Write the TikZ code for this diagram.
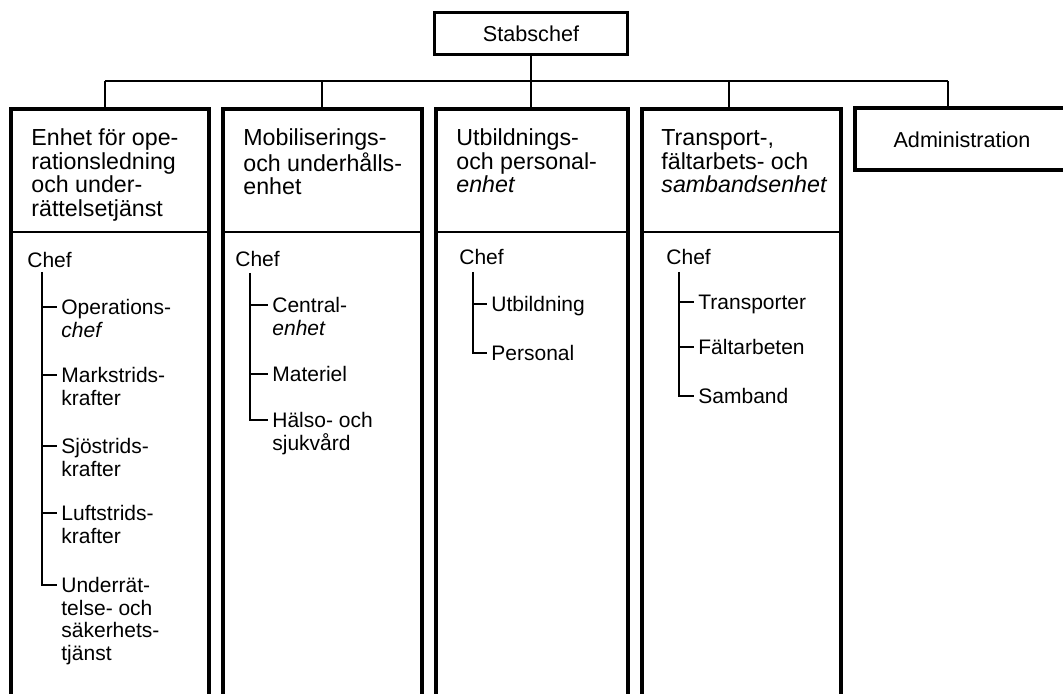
\documentclass[tikz,border=0pt]{standalone}
\usepackage{fontspec}
\setmainfont{Liberation Sans}
\newcommand\mystrut{\rule{0pt}{8pt}}
\newcommand\hstrut{\rule{0pt}{10pt}}
\begin{document}
\begin{tikzpicture}[x=0.5pt,y=-0.5pt,
  txt/.style={anchor=north west, inner xsep=2pt, inner ysep=0pt, align=left,
    font=\fontsize{10.5pt}{11.2pt}\selectfont},
  hdr/.style={txt, font=\fontsize{11.6pt}{11.7pt}\selectfont},
  stabbox/.style={draw, line width=1.5pt, minimum width=96.5pt, minimum height=21pt,
    inner sep=0pt, font=\fontsize{10.8pt}{11.2pt}\selectfont},
  colborder/.style={line width=1.8pt},
  conn/.style={line width=0.9pt},
  divline/.style={line width=0.8pt},
  tree/.style={line width=0.9pt}]
\useasboundingbox (0,0) rectangle (1063,694);

% top node
\node[stabbox] (stab) at (531,34) {Stabschef};

% column tops and bus
\coordinate (c1top) at (105,109);
\coordinate (c2top) at (322,109);
\coordinate (c3top) at (531,109);
\coordinate (c4top) at (729,109);
\coordinate (c5top) at (948,108);
\coordinate (busL) at (105,81);
\coordinate (busR) at (948,81);

% column frames (open at bottom)
\draw[colborder] (11,700) -- (11,109) -- (209,109) -- (209,700);
\draw[colborder] (223,700) -- (223,109) -- (422,109) -- (422,700);
\draw[colborder] (436,700) -- (436,109) -- (628,109) -- (628,700);
\draw[colborder] (642,700) -- (642,109) -- (841,109) -- (841,700);
\draw[colborder] (1070,108) -- (855,108) -- (855,170) -- (1070,170);
\draw[divline] (11,232) -- (209,232);
\draw[divline] (223,232) -- (422,232);
\draw[divline] (436,232) -- (628,232);
\draw[divline] (642,232) -- (841,232);

% connectors
\draw[conn] (busL) -- (busR);
\draw[conn] (stab.south) -- (c3top);
\draw[conn] (c1top) -- (c1top |- busL);
\draw[conn] (c2top) -- (c2top |- busL);
\draw[conn] (c4top) -- (c4top |- busL);
\draw[conn] (c5top) -- (c5top |- busR);

% headers
\node[hdr] (h1) at (27,125.5) {\hstrut Enhet för ope-\\rationsledning\\och under-\\rättelsetjänst};
\node[hdr] (h2) at (239,125.5) {\hstrut Mobiliserings-\\och underhålls-\\enhet};
\node[hdr] (h3) at (452,125.5) {\hstrut Utbildnings-\\och personal-\\\textit{enhet}};
\node[hdr] (h4) at (657,125.5) {\hstrut Transport-,\\fältarbets- och\\\textit{sambandsenhet}};
\node[font=\fontsize{10.8pt}{11.2pt}\selectfont, inner sep=0pt] (h5) at (962,140) {Administration};

% column 1
\node[txt] (chef1) at (23,251.5) {\mystrut Chef};
\node[txt] (o1) at (57,298.5) {\mystrut Operations-\\\textit{chef}};
\node[txt] (o2) at (57,366.5) {\mystrut Markstrids-\\krafter};
\node[txt] (o3) at (57,437.5) {\mystrut Sjöstrids-\\krafter};
\node[txt] (o4) at (57,504.5) {\mystrut Luftstrids-\\krafter};
\node[txt] (o5) at (57,576.5) {\mystrut Underrät-\\telse- och\\säkerhets-\\tjänst};
\coordinate (v1) at (42,272);
\coordinate (k11) at (42,307);
\coordinate (k12) at (42,375);
\coordinate (k13) at (42,446);
\coordinate (k14) at (42,513);
\coordinate (k15) at (42,585);
\draw[tree] (v1) -- (k15) -- (k15 -| o5.west);
\draw[tree] (k11) -- (k11 -| o1.west);
\draw[tree] (k12) -- (k12 -| o2.west);
\draw[tree] (k13) -- (k13 -| o3.west);
\draw[tree] (k14) -- (k14 -| o4.west);

% column 2
\node[txt] (chef2) at (231,250.5) {\mystrut Chef};
\node[txt] (m1) at (268,296.5) {\mystrut Central-\\\textit{enhet}};
\node[txt] (m2) at (268,365.5) {\mystrut Materiel};
\node[txt] (m3) at (268,411.5) {\mystrut Hälso- och\\sjukvård};
\coordinate (v2) at (250,273);
\coordinate (k21) at (250,305);
\coordinate (k22) at (250,374);
\coordinate (k23) at (250,420);
\draw[tree] (v2) -- (k23) -- (k23 -| m3.west);
\draw[tree] (k21) -- (k21 -| m1.west);
\draw[tree] (k22) -- (k22 -| m2.west);

% column 3
\node[txt] (chef3) at (455,248.5) {\mystrut Chef};
\node[txt] (u1) at (487,295.5) {\mystrut Utbildning};
\node[txt] (u2) at (487,344.5) {\mystrut Personal};
\coordinate (v3) at (473,272);
\coordinate (k31) at (473,304);
\coordinate (k32) at (473,353);
\draw[tree] (v3) -- (k32) -- (k32 -| u2.west);
\draw[tree] (k31) -- (k31 -| u1.west);

% column 4
\node[txt] (chef4) at (662,248.5) {\mystrut Chef};
\node[txt] (t1) at (694,293.5) {\mystrut Transporter};
\node[txt] (t2) at (694,338.5) {\mystrut Fältarbeten};
\node[txt] (t3) at (694,387.5) {\mystrut Samband};
\coordinate (v4) at (679,272);
\coordinate (k41) at (679,302);
\coordinate (k42) at (679,347);
\coordinate (k43) at (679,396);
\draw[tree] (v4) -- (k43) -- (k43 -| t3.west);
\draw[tree] (k41) -- (k41 -| t1.west);
\draw[tree] (k42) -- (k42 -| t2.west);
\end{tikzpicture}
\end{document}
